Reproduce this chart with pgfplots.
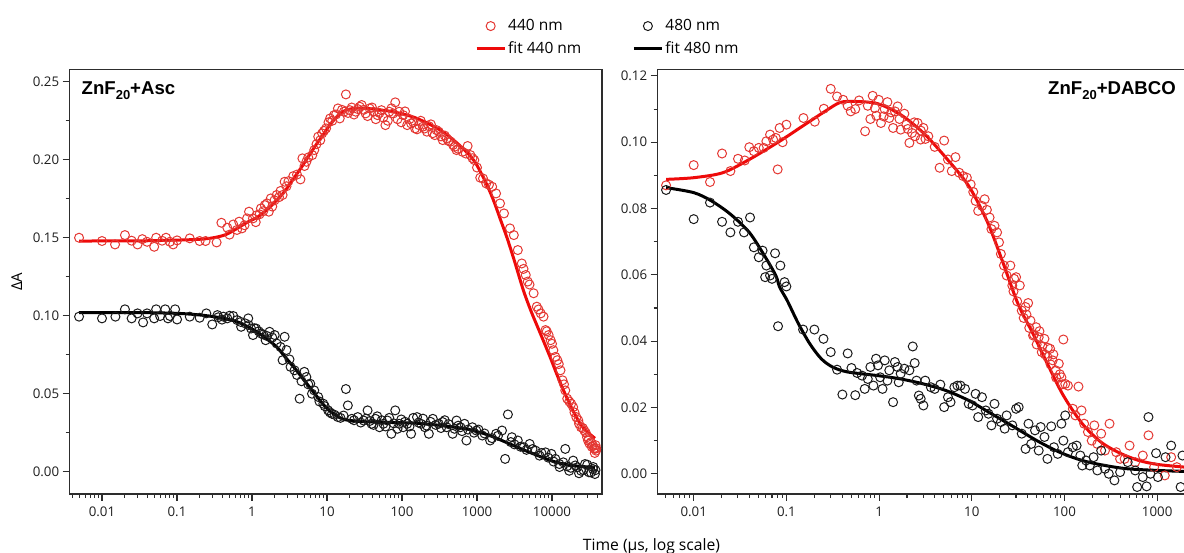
\documentclass[border=0pt]{standalone}
\usepackage{fontspec}
\setmainfont{Open Sans}
\newfontfamily\arialfont{Liberation Sans}
\usepackage{pgfplots}
\usepackage{pgfplotstable}
\pgfplotsset{compat=1.18}

\definecolor{dred}{RGB}{228,55,50}
\definecolor{fred}{RGB}{238,10,10}
\definecolor{dblk}{RGB}{25,25,25}
\definecolor{axgray}{RGB}{45,45,45}

% ---------------- left panel: ZnF20 + Asc (x column = log10 of time in us)
\pgfplotstableread{
lt A
-2.306 0.1500
-2.000 0.1479
-1.826 0.1457
-1.694 0.1517
-1.605 0.1481
-1.526 0.1457
-1.462 0.1491
-1.399 0.1474
-1.304 0.1442
-1.278 0.1500
-1.199 0.1481
-1.146 0.1500
-1.094 0.1474
-1.051 0.1457
-0.999 0.1483
-0.830 0.1496
-0.698 0.1479
-0.619 0.1479
-0.472 0.1470
-0.408 0.1596
-0.329 0.1564
-0.300 0.1520
-0.250 0.1585
-0.200 0.1550
-0.171 0.1603
-0.134 0.1560
-0.100 0.1580
-0.066 0.1624
-0.040 0.1667
0.013 0.1624
0.050 0.1600
0.066 0.1645
0.100 0.1650
0.119 0.1688
0.150 0.1670
0.171 0.1709
0.200 0.1720
0.224 0.1667
0.250 0.1752
0.270 0.1700
0.300 0.1740
0.329 0.1774
0.360 0.1760
0.380 0.1800
0.408 0.1774
0.435 0.1859
0.460 0.1830
0.487 0.1863
0.550 0.1895
0.600 0.1905
0.646 0.1874
0.672 0.2009
0.700 0.1960
0.725 0.1987
0.750 0.2015
0.804 0.2030
0.830 0.2062
0.860 0.2100
0.883 0.2148
0.910 0.2125
0.935 0.2169
0.960 0.2185
0.988 0.2201
1.020 0.2240
1.041 0.2265
1.070 0.2250
1.094 0.2286
1.120 0.2290
1.146 0.2329
1.170 0.2265
1.200 0.2320
1.225 0.2308
1.252 0.2419
1.280 0.2300
1.304 0.2318
1.330 0.2335
1.360 0.2290
1.383 0.2308
1.410 0.2325
1.436 0.2340
1.462 0.2351
1.490 0.2320
1.515 0.2297
1.540 0.2280
1.568 0.2329
1.600 0.2335
1.621 0.2308
1.650 0.2260
1.673 0.2286
1.700 0.2300
1.726 0.2318
1.750 0.2270
1.779 0.2222
1.810 0.2250
1.831 0.2308
1.860 0.2330
1.884 0.2297
1.910 0.2368
1.940 0.2260
1.963 0.2308
1.990 0.2240
2.016 0.2286
2.040 0.2310
2.069 0.2222
2.100 0.2260
2.121 0.2233
2.150 0.2240
2.174 0.2201
2.200 0.2195
2.227 0.2222
2.250 0.2250
2.279 0.2212
2.300 0.2200
2.332 0.2180
2.360 0.2215
2.385 0.2227
2.410 0.2170
2.437 0.2158
2.460 0.2190
2.490 0.2180
2.520 0.2150
2.543 0.2126
2.570 0.2155
2.596 0.2137
2.620 0.2120
2.648 0.2116
2.680 0.2095
2.701 0.2083
2.727 0.2062
2.750 0.2070
2.806 0.2051
2.850 0.2040
2.875 0.2088
2.912 0.2030
2.940 0.2010
2.964 0.1998
3.000 0.1950
3.043 0.1885
3.080 0.1880
3.123 0.1848
3.160 0.1840
3.202 0.1827
3.254 0.1784
3.307 0.1720
3.360 0.1656
3.439 0.1560
3.491 0.1517
3.544 0.1421
3.597 0.1335
3.620 0.1300
3.650 0.1261
3.676 0.1219
3.700 0.1200
3.755 0.1144
3.797 0.1058
3.820 0.1040
3.850 0.1015
3.887 0.0994
3.913 0.0908
3.930 0.0900
3.955 0.0876
3.982 0.0843
4.000 0.0820
4.018 0.0779
4.045 0.0736
4.071 0.0715
4.090 0.0690
4.113 0.0650
4.140 0.0586
4.160 0.0560
4.177 0.0521
4.203 0.0468
4.230 0.0450
4.256 0.0436
4.282 0.0414
4.300 0.0380
4.324 0.0350
4.350 0.0330
4.361 0.0307
4.387 0.0285
4.410 0.0280
4.430 0.0264
4.450 0.0250
4.467 0.0221
4.480 0.0200
4.493 0.0210
4.500 0.0180
4.519 0.0189
4.530 0.0160
4.546 0.0167
4.560 0.0150
4.570 0.0120
4.572 0.0146
4.580 0.0170
4.588 0.0135
4.590 0.0150
}\leftred

\pgfplotstableread{
lt A
-2.306 0.1479
-1.500 0.1480
-0.988 0.1485
-0.700 0.1490
-0.514 0.1500
-0.350 0.1520
-0.198 0.1560
-0.060 0.1600
0.066 0.1630
0.200 0.1680
0.329 0.1740
0.440 0.1800
0.540 0.1870
0.650 0.1945
0.751 0.2020
0.860 0.2100
0.962 0.2170
1.040 0.2225
1.120 0.2270
1.200 0.2305
1.278 0.2322
1.380 0.2330
1.489 0.2330
1.600 0.2326
1.700 0.2320
1.910 0.2305
2.174 0.2270
2.437 0.2210
2.600 0.2160
2.750 0.2100
2.880 0.2040
2.980 0.1980
3.070 0.1900
3.150 0.1820
3.228 0.1730
3.310 0.1620
3.400 0.1500
3.500 0.1350
3.617 0.1165
3.720 0.1030
3.850 0.0880
3.973 0.0737
4.060 0.0630
4.151 0.0524
4.260 0.0410
4.373 0.0310
4.470 0.0255
4.573 0.0214
}\leftredfit

\pgfplotstableread{
lt A
-2.306 0.0994
-2.000 0.0983
-1.821 0.0994
-1.694 0.1041
-1.605 0.0983
-1.526 0.1015
-1.452 0.0957
-1.399 0.1015
-1.304 0.0983
-1.278 0.1041
-1.225 0.0998
-1.157 0.1041
-1.120 0.0983
-1.094 0.0998
-1.025 0.1041
-0.999 0.0976
-0.830 0.0994
-0.698 0.0987
-0.609 0.1015
-0.530 0.0944
-0.461 0.1004
-0.450 0.0990
-0.400 0.0975
-0.382 0.0994
-0.329 0.0983
-0.300 0.1000
-0.250 0.0998
-0.198 0.0972
-0.150 0.0960
-0.145 0.0929
-0.092 0.0951
-0.050 0.0983
-0.045 0.0940
-0.013 0.0918
0.013 0.0876
0.030 0.0920
0.055 0.0918
0.090 0.0900
0.119 0.0886
0.150 0.0880
0.182 0.0843
0.200 0.0870
0.234 0.0897
0.270 0.0860
0.303 0.0876
0.329 0.0822
0.380 0.0800
0.408 0.0715
0.435 0.0865
0.460 0.0780
0.500 0.0720
0.514 0.0672
0.567 0.0650
0.600 0.0620
0.635 0.0468
0.660 0.0580
0.698 0.0640
0.725 0.0607
0.750 0.0560
0.777 0.0564
0.800 0.0500
0.830 0.0521
0.883 0.0479
0.900 0.0450
0.951 0.0436
0.970 0.0420
1.015 0.0393
1.040 0.0380
1.067 0.0371
1.100 0.0365
1.146 0.0350
1.180 0.0345
1.220 0.0360
1.252 0.0530
1.278 0.0425
1.331 0.0339
1.360 0.0330
1.410 0.0350
1.450 0.0315
1.489 0.0328
1.520 0.0340
1.541 0.0393
1.570 0.0325
1.594 0.0307
1.620 0.0300
1.647 0.0339
1.670 0.0355
1.700 0.0285
1.730 0.0330
1.752 0.0307
1.780 0.0290
1.805 0.0328
1.830 0.0345
1.858 0.0243
1.890 0.0310
1.910 0.0393
1.940 0.0275
1.963 0.0307
1.990 0.0335
2.016 0.0285
2.040 0.0320
2.069 0.0307
2.100 0.0290
2.121 0.0243
2.150 0.0345
2.200 0.0350
2.220 0.0315
2.253 0.0307
2.280 0.0340
2.306 0.0285
2.330 0.0295
2.358 0.0243
2.380 0.0320
2.411 0.0339
2.450 0.0300
2.490 0.0307
2.520 0.0280
2.543 0.0318
2.570 0.0330
2.596 0.0285
2.620 0.0305
2.675 0.0243
2.700 0.0275
2.727 0.0328
2.750 0.0295
2.780 0.0285
2.800 0.0260
2.833 0.0307
2.859 0.0200
2.880 0.0270
2.938 0.0285
2.960 0.0250
2.991 0.0264
3.020 0.0270
3.070 0.0232
3.100 0.0245
3.175 0.0200
3.200 0.0215
3.254 0.0243
3.280 0.0230
3.333 0.0264
3.375 0.0082
3.412 0.0367
3.450 0.0190
3.465 0.0221
3.500 0.0175
3.544 0.0200
3.580 0.0160
3.623 0.0157
3.660 0.0140
3.702 0.0178
3.740 0.0145
3.781 0.0135
3.834 0.0103
3.860 0.0120
3.913 0.0124
3.950 0.0090
3.992 0.0114
4.020 0.0065
4.045 0.0082
4.098 0.0049
4.100 0.0030
4.150 0.0060
4.177 0.0146
4.200 0.0035
4.229 0.0006
4.250 0.0025
4.282 0.0071
4.310 0.0040
4.335 0.0028
4.360 -0.0010
4.387 0.0006
4.420 0.0010
4.440 0.0049
4.470 0.0045
4.493 -0.0004
4.520 -0.0005
4.546 0.0017
4.550 0.0030
4.572 -0.0015
4.580 0.0010
}\leftblk

\pgfplotstableread{
lt A
-2.306 0.1020
-1.500 0.1020
-0.988 0.1015
-0.700 0.1005
-0.514 0.0994
-0.350 0.0980
-0.198 0.0961
-0.060 0.0930
0.066 0.0897
0.200 0.0850
0.329 0.0800
0.460 0.0725
0.593 0.0650
0.700 0.0583
0.804 0.0520
0.885 0.0470
0.962 0.0425
1.040 0.0388
1.120 0.0360
1.200 0.0340
1.278 0.0330
1.450 0.0322
1.647 0.0318
1.900 0.0315
2.174 0.0311
2.450 0.0300
2.701 0.0285
2.850 0.0275
2.964 0.0262
3.100 0.0243
3.228 0.0221
3.360 0.0194
3.491 0.0167
3.620 0.0140
3.755 0.0114
3.890 0.0088
4.018 0.0066
4.150 0.0050
4.282 0.0039
4.430 0.0032
4.572 0.0028
}\leftblkfit

% ---------------- right panel: ZnF20 + DABCO
\pgfplotstableread{
lt A
-2.298 0.0870
-2.000 0.0931
-1.824 0.0880
-1.694 0.0966
-1.604 0.0913
-1.522 0.0950
-1.449 0.0945
-1.400 0.0985
-1.351 0.0973
-1.298 0.0983
-1.245 0.0983
-1.216 0.1003
-1.176 0.1023
-1.143 0.1008
-1.114 0.1013
-1.094 0.0918
-1.073 0.1043
-1.041 0.1000
-1.000 0.1053
-0.816 0.1073
-0.694 0.1062
-0.596 0.1101
-0.522 0.1161
-0.453 0.1138
-0.388 0.1128
-0.339 0.1110
-0.306 0.1093
-0.257 0.1100
-0.216 0.1126
-0.151 0.1033
-0.122 0.1110
-0.094 0.1070
-0.069 0.1140
-0.045 0.1103
-0.030 0.1080
-0.004 0.1128
0.020 0.1058
0.049 0.1078
0.060 0.1100
0.090 0.1121
0.110 0.1073
0.130 0.1090
0.151 0.1043
0.171 0.1093
0.200 0.1108
0.220 0.1070
0.233 0.1038
0.273 0.1086
0.294 0.1053
0.310 0.1040
0.327 0.0998
0.355 0.1028
0.380 0.1060
0.388 0.1018
0.416 0.1058
0.449 0.1008
0.450 0.1035
0.478 0.1043
0.500 0.1010
0.531 0.1018
0.600 0.0986
0.653 0.0923
0.702 0.1005
0.743 0.0948
0.784 0.0913
0.824 0.0955
0.865 0.0908
0.906 0.0898
0.947 0.0893
0.988 0.0873
1.016 0.0850
1.041 0.0823
1.069 0.0793
1.110 0.0808
1.139 0.0828
1.163 0.0796
1.192 0.0773
1.212 0.0738
1.245 0.0748
1.273 0.0728
1.294 0.0698
1.314 0.0663
1.347 0.0628
1.376 0.0598
1.416 0.0628
1.437 0.0568
1.450 0.0550
1.457 0.0588
1.478 0.0593
1.490 0.0520
1.518 0.0568
1.539 0.0492
1.560 0.0470
1.580 0.0503
1.590 0.0480
1.608 0.0515
1.620 0.0440
1.633 0.0462
1.661 0.0417
1.670 0.0420
1.694 0.0442
1.700 0.0390
1.722 0.0412
1.730 0.0430
1.755 0.0367
1.760 0.0385
1.784 0.0407
1.790 0.0360
1.816 0.0352
1.820 0.0380
1.845 0.0377
1.850 0.0330
1.873 0.0342
1.880 0.0360
1.906 0.0312
1.910 0.0290
1.939 0.0332
1.950 0.0300
1.967 0.0291
1.980 0.0270
1.988 0.0405
2.008 0.0271
2.037 0.0266
2.090 0.0196
2.118 0.0176
2.151 0.0263
2.184 0.0191
2.212 0.0151
2.253 0.0126
2.294 0.0100
2.322 0.0146
2.355 0.0090
2.396 0.0121
2.437 0.0070
2.486 0.0151
2.559 0.0065
2.600 0.0045
2.649 0.0045
2.702 0.0085
2.763 0.0035
2.845 0.0055
2.906 0.0116
2.967 0.0020
3.082 -0.0005
3.151 0.0050
3.212 0.0020
}\rightred

\pgfplotstableread{
lt A
-2.298 0.0888
-2.000 0.0893
-1.686 0.0908
-1.400 0.0948
-1.073 0.1003
-0.829 0.1048
-0.584 0.1093
-0.420 0.1120
-0.257 0.1123
-0.012 0.1116
0.233 0.1083
0.478 0.1028
0.722 0.0953
0.967 0.0868
1.171 0.0758
1.335 0.0638
1.498 0.0513
1.661 0.0422
1.824 0.0327
1.988 0.0236
2.192 0.0151
2.396 0.0095
2.600 0.0062
2.804 0.0040
3.008 0.0028
3.300 0.0020
}\rightredfit

\pgfplotstableread{
lt A
-2.298 0.0856
-2.000 0.0768
-1.824 0.0818
-1.694 0.0760
-1.604 0.0728
-1.522 0.0760
-1.457 0.0728
-1.392 0.0773
-1.351 0.0683
-1.298 0.0653
-1.257 0.0673
-1.229 0.0593
-1.216 0.0628
-1.176 0.0598
-1.155 0.0588
-1.122 0.0665
-1.090 0.0445
-1.065 0.0628
-1.020 0.0578
-1.000 0.0565
-0.820 0.0435
-0.698 0.0435
-0.600 0.0407
-0.522 0.0367
-0.453 0.0314
-0.396 0.0239
-0.339 0.0363
-0.298 0.0319
-0.257 0.0237
-0.237 0.0304
-0.184 0.0296
-0.155 0.0256
-0.122 0.0286
-0.094 0.0322
-0.061 0.0266
-0.033 0.0347
-0.012 0.0327
0.012 0.0291
0.037 0.0256
0.061 0.0342
0.090 0.0281
0.110 0.0312
0.151 0.0216
0.171 0.0337
0.200 0.0322
0.212 0.0276
0.233 0.0302
0.273 0.0317
0.327 0.0312
0.363 0.0384
0.384 0.0334
0.404 0.0281
0.429 0.0236
0.449 0.0226
0.478 0.0206
0.498 0.0281
0.559 0.0261
0.600 0.0256
0.661 0.0269
0.702 0.0201
0.743 0.0231
0.771 0.0216
0.812 0.0261
0.845 0.0266
0.878 0.0266
0.927 0.0256
0.967 0.0211
1.008 0.0206
1.041 0.0241
1.069 0.0171
1.110 0.0231
1.151 0.0191
1.180 0.0181
1.212 0.0146
1.245 0.0211
1.273 0.0166
1.314 0.0156
1.355 0.0136
1.376 0.0176
1.437 0.0146
1.478 0.0196
1.506 0.0201
1.539 0.0121
1.580 0.0075
1.612 0.0151
1.641 0.0090
1.682 0.0131
1.722 0.0070
1.743 0.0141
1.784 0.0111
1.816 0.0045
1.857 0.0143
1.886 0.0080
1.927 0.0060
1.967 0.0151
1.988 0.0100
2.008 0.0176
2.037 0.0065
2.090 0.0080
2.131 0.0085
2.171 0.0055
2.192 0.0025
2.233 0.0040
2.273 0.0025
2.314 0.0050
2.355 0.0010
2.396 0.0070
2.437 0.0015
2.478 0.0000
2.539 -0.0020
2.600 0.0005
2.682 0.0035
2.763 0.0010
2.784 -0.0040
2.845 -0.0010
2.886 -0.0038
2.906 0.0171
2.927 0.0000
2.988 0.0062
3.008 -0.0010
3.090 0.0050
3.151 0.0085
3.253 -0.0040
3.273 0.0055
}\rightblk

\pgfplotstableread{
lt A
-2.298 0.0863
-2.000 0.0848
-1.808 0.0823
-1.604 0.0783
-1.400 0.0728
-1.237 0.0658
-1.114 0.0598
-1.073 0.0563
-0.992 0.0523
-0.869 0.0452
-0.747 0.0392
-0.624 0.0347
-0.502 0.0322
-0.339 0.0307
-0.012 0.0296
0.233 0.0286
0.478 0.0271
0.722 0.0251
0.967 0.0221
1.212 0.0181
1.457 0.0141
1.702 0.0100
1.947 0.0065
2.192 0.0040
2.437 0.0025
2.682 0.0015
3.008 0.0010
3.300 0.0007
}\rightblkfit

\pgfplotsset{
  mypanel/.style={
    scale only axis,
    axis line style={axgray, line width=1.3pt},
    every tick/.style={axgray, line width=1.1pt},
    tick align=outside, xtick pos=bottom, ytick pos=left,
    major tick length=7pt, minor tick length=4pt,
    tick label style={font=\fontsize{13.3}{15}\selectfont, text=black!88},
    /pgf/number format/assume math mode=true,
    yticklabel style={/pgf/number format/fixed, /pgf/number format/fixed zerofill, /pgf/number format/precision=2},
    xticklabel style={yshift=-2pt},
    minor y tick num=1,
    xtick={0.01,0.1,1,10,100,1000,10000},
    xticklabels={0.01,0.1,1,10,100,1000,10000},
  },
  datpts/.style={only marks, mark=o, mark size=4.5pt, mark options={line width=1pt},
    legend image code/.code={\draw[mark repeat=2,mark phase=2,##1] plot coordinates {(0pt,0pt) (14pt,0pt) (28pt,0pt)};}},
  fitline/.style={line width=3pt, smooth, tension=0.5, no marks,
    legend image code/.code={\draw[##1] (0pt,0pt) -- (28pt,0pt);}},
}

\begin{document}
\begin{tikzpicture}[x=1pt,y=1pt]
\begin{axis}[xmode=log, mypanel,
  at={(69.7pt,59pt)}, anchor=south west,
  width=532.3pt, height=424.7pt,
  xmin=0.00371, xmax=46400, ymin=-0.0143, ymax=0.258,
  ytick={0,0.05,0.10,0.15,0.20,0.25},
  minor xtick={0.004,0.005,0.006,0.007,0.008,0.009,0.02,0.03,0.04,0.05,0.06,0.07,0.08,0.09,0.2,0.3,0.4,0.5,0.6,0.7,0.8,0.9,2,3,4,5,6,7,8,9,20,30,40,50,60,70,80,90,200,300,400,500,600,700,800,900,2000,3000,4000,5000,6000,7000,8000,9000,20000,30000,40000},
  legend columns=2,
  legend style={draw=none, fill=none, inner sep=0pt,
    at={(0.7614,1.1196)}, anchor=north west,
    font=\fontsize{15.5}{17}\selectfont,
    nodes={inner xsep=2pt, inner ysep=1pt},
    row sep=7.5pt,
    /tikz/every even column/.append style={column sep=49pt}},
  legend cell align=left,
]
\addplot[datpts, dred] table[x expr={10^(\thisrow{lt})}, y=A] {\leftred};
\addlegendentry{440 nm}
\addplot[datpts, dblk] table[x expr={10^(\thisrow{lt})}, y=A] {\leftblk};
\addlegendentry{480 nm}
\addplot[fitline, fred] table[x expr={10^(\thisrow{lt})}, y=A] {\leftredfit};
\addlegendentry{fit 440 nm}
\addplot[fitline, black] table[x expr={10^(\thisrow{lt})}, y=A] {\leftblkfit};
\addlegendentry{fit 480 nm}
\end{axis}

\begin{axis}[xmode=log, mypanel,
  at={(657.7pt,59pt)}, anchor=south west,
  width=543.7pt, height=424.7pt,
  xmin=0.00409, xmax=3000, ymin=-0.0061, ymax=0.122,
  ytick={0,0.02,0.04,0.06,0.08,0.10,0.12},
  minor xtick={0.005,0.006,0.007,0.008,0.009,0.02,0.03,0.04,0.05,0.06,0.07,0.08,0.09,0.2,0.3,0.4,0.5,0.6,0.7,0.8,0.9,2,3,4,5,6,7,8,9,20,30,40,50,60,70,80,90,200,300,400,500,600,700,800,900,2000},
]
\addplot[datpts, dred] table[x expr={10^(\thisrow{lt})}, y=A] {\rightred};
\addplot[datpts, dblk] table[x expr={10^(\thisrow{lt})}, y=A] {\rightblk};
\addplot[fitline, fred] table[x expr={10^(\thisrow{lt})}, y=A] {\rightredfit};
\addplot[fitline, black] table[x expr={10^(\thisrow{lt})}, y=A] {\rightblkfit};
\end{axis}

\node[anchor=west, inner sep=0pt, font=\arialfont\bfseries\fontsize{18.6}{20}\selectfont] at (81.5,462.3)
  {ZnF\raisebox{-5pt}{\fontsize{13}{13}\selectfont 20}+Asc};
\node[anchor=east, inner sep=0pt, font=\arialfont\bfseries\fontsize{18.6}{20}\selectfont] at (1176,462.3)
  {ZnF\raisebox{-5pt}{\fontsize{13}{13}\selectfont 20}+DABCO};
\node[anchor=base, inner sep=0pt, font=\fontsize{15.7}{18}\selectfont] at (651.5,2) {Time (µs, log scale)};
\node[rotate=90, inner sep=0pt, font=\fontsize{15}{17}\selectfont] at (16.7,271.3) {ΔA};

\pgfresetboundingbox
\path[use as bounding box] (0,0) rectangle (1184,553);
\end{tikzpicture}
\end{document}
